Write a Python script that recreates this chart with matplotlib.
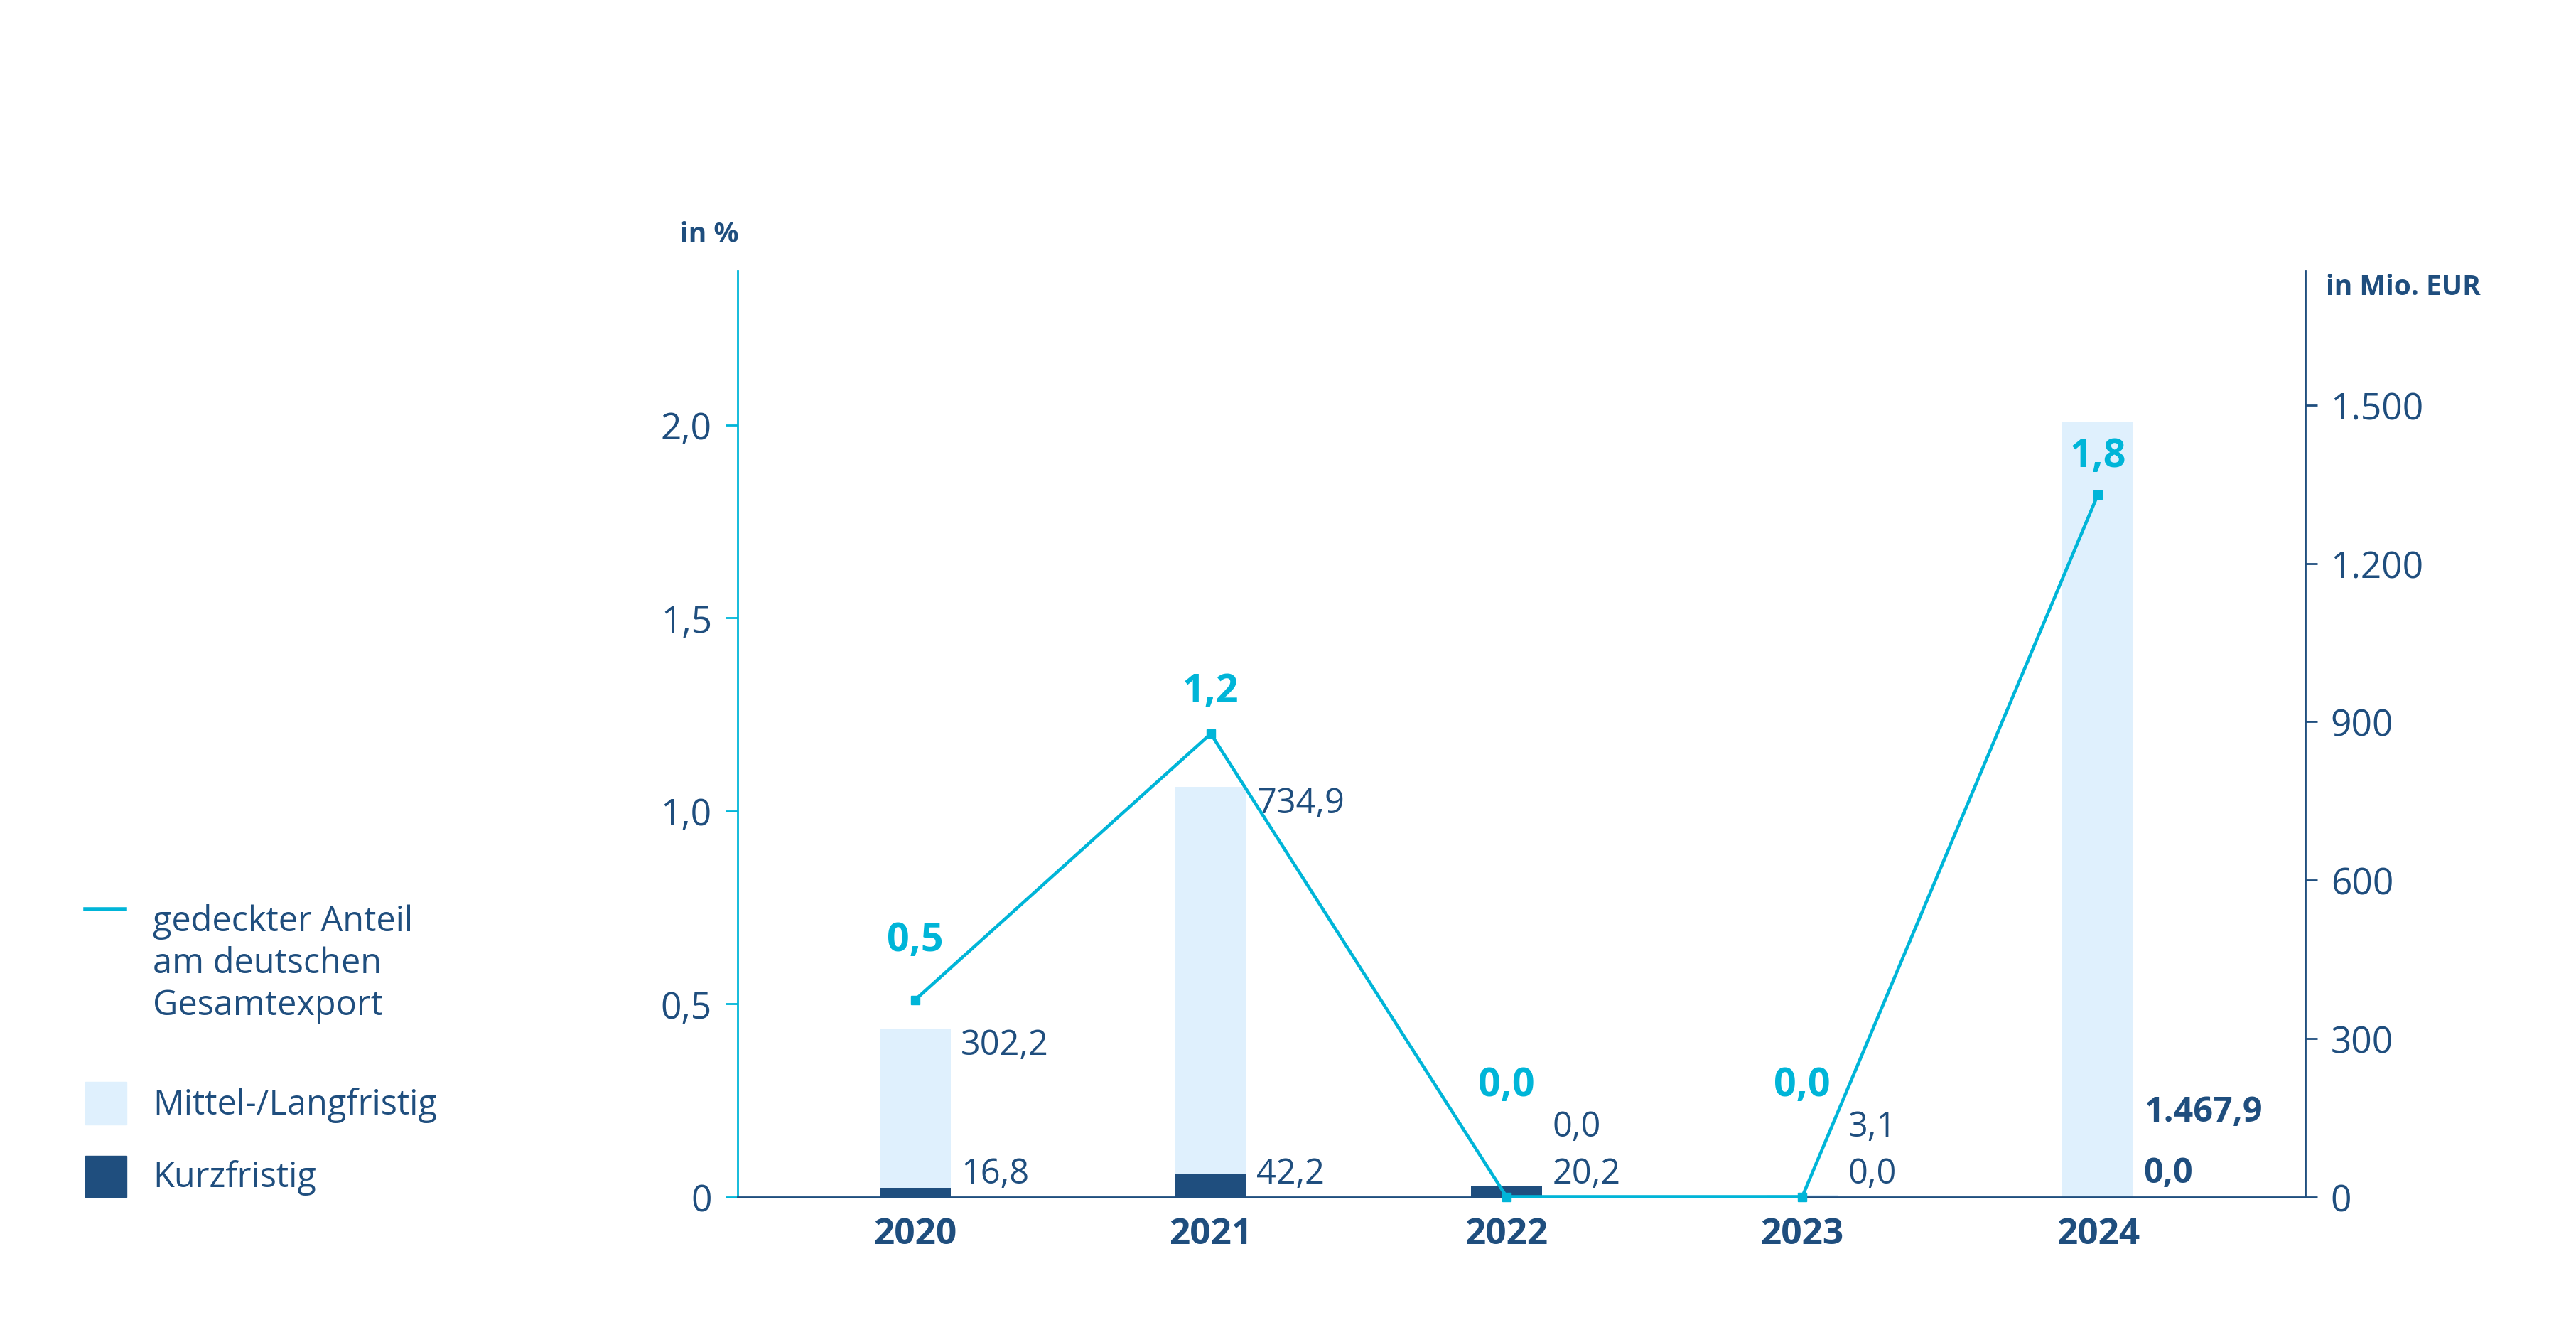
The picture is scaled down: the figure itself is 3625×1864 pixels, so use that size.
import matplotlib
matplotlib.use("Agg")
import matplotlib.pyplot as plt
from matplotlib.patches import Rectangle
from matplotlib.lines import Line2D

years = ["2020", "2021", "2022", "2023", "2024"]
mittel = [302.2, 734.9, 0.0, 3.1, 1467.9]
kurz = [16.8, 42.2, 20.2, 0.0, 0.0]
anteil = [0.51, 1.20, 0.0, 0.0, 1.82]
anteil_labels = ["0,5", "1,2", "0,0", "0,0", "1,8"]
mittel_labels = ["302,2", "734,9", "0,0", "3,1", "1.467,9"]
kurz_labels = ["16,8", "42,2", "20,2", "0,0", "0,0"]
left_ticks = [0, 0.5, 1.0, 1.5, 2.0]
left_ticklabels = ["0", "0,5", "1,0", "1,5", "2,0"]
right_ticks = [0, 300, 600, 900, 1200, 1500]
right_ticklabels = ["0", "300", "600", "900", "1.200", "1.500"]

CY = "#00b5d8"; LB = "#dff0fd"; DB = "#1f4e7e"; TX = "#1f4e7e"
plt.rcParams["font.family"] = "Open Sans"

fig = plt.figure(figsize=(36.25, 18.65), dpi=100)
W, H = 1568, 806
ax = fig.add_axes([449/W, 1-728/H, (1403-449)/W, (728-165)/H])
ax2 = ax.twinx()
ax.set_zorder(2); ax.patch.set_visible(False)

x = list(range(len(years)))
bw = 0.24
ax2.bar(x, kurz, bw, color=DB, zorder=2)
ax2.bar(x, mittel, bw, bottom=kurz, color=LB, zorder=1)
for i in x:
    tot = mittel[i] + kurz[i]
    y = 160 if tot > 1000 else (tot - 32 if tot > 150 else 133)
    bold = "bold" if i == 4 else "normal"
    ax2.text(i + 0.155, y, mittel_labels[i], fontsize=35, color=TX, va="center", ha="left", fontweight=bold)
    ax2.text(i + 0.155, 44, kurz_labels[i], fontsize=35, color=TX, va="center", ha="left", fontweight=bold)

ax.plot(x, anteil, color=CY, lw=3.3, marker="s", ms=9, zorder=5, clip_on=False)
for i in x:
    off = 0.155 if anteil[i] < 1 else (0.11 if anteil[i] < 1.5 else 0.1)
    ax.text(i, max(anteil[i] + off, 0.29), anteil_labels[i], fontsize=40, color=CY,
            fontweight="bold", ha="center", va="center")

ax.set_xlim(-0.6, 4.7)
ax.set_ylim(0, 2.4)
ax2.set_ylim(0, 1755)
ax.set_yticks(left_ticks); ax.set_yticklabels(left_ticklabels)
ax2.set_yticks(right_ticks); ax2.set_yticklabels(right_ticklabels)
ax.set_xticks(x); ax.set_xticklabels(years, fontweight="bold")
for a in (ax, ax2):
    for s in ("top",):
        a.spines[s].set_visible(False)
ax.spines["right"].set_visible(False)
ax2.spines["left"].set_visible(False)
ax2.spines["bottom"].set_visible(False)
ax.spines["left"].set_color(CY); ax.spines["left"].set_linewidth(2)
ax2.spines["right"].set_color(DB); ax2.spines["right"].set_linewidth(2)
ax.spines["bottom"].set_color(DB); ax.spines["bottom"].set_linewidth(2)
ax.tick_params(axis="y", colors=CY, labelcolor=TX, labelsize=37, length=12, width=2, pad=14)
ax.tick_params(axis="x", length=0, labelcolor=TX, labelsize=37, pad=20)
ax2.tick_params(axis="y", colors=DB, labelcolor=TX, labelsize=37, length=12, width=2, pad=14)

fig.text(432/W, 1-143/H, "in %", fontsize=28, color=TX, fontweight="bold", ha="center", va="center")
fig.text(1463/W, 1-175/H, "in Mio. EUR", fontsize=28, color=TX, fontweight="bold", ha="center", va="center")

fig.add_artist(Line2D([52/W, 76/W], [1-553/H]*2, color=CY, lw=4))
fig.text(93/W, 1-586/H, "gedeckter Anteil\nam deutschen\nGesamtexport", fontsize=35, color=TX,
         va="center", ha="left", linespacing=1.25)
fig.add_artist(Rectangle((52/W, 1-684/H), 25/W, 26/H, color=LB, transform=fig.transFigure))
fig.text(93/W, 1-672/H, "Mittel-/Langfristig", fontsize=35, color=TX, va="center")
fig.add_artist(Rectangle((52/W, 1-728/H), 25/W, 25/H, color=DB, transform=fig.transFigure))
fig.text(93/W, 1-716/H, "Kurzfristig", fontsize=35, color=TX, va="center")

fig.savefig("out.png", dpi=100)
